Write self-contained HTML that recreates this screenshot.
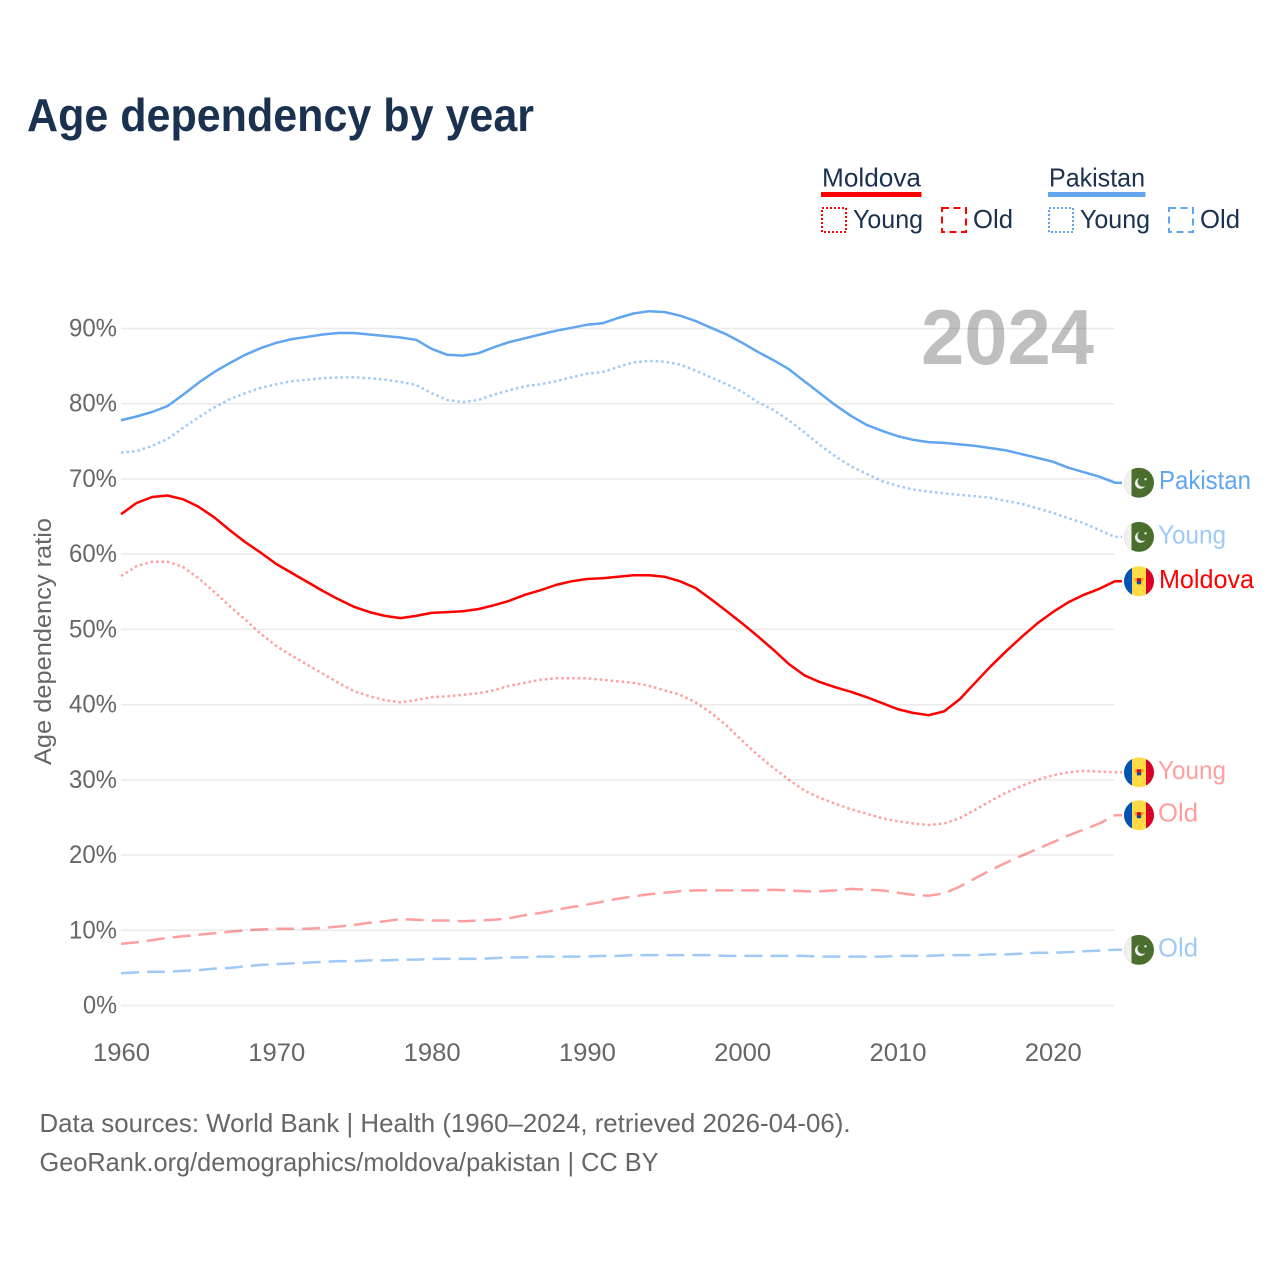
<!DOCTYPE html>
<html lang="en">
<head>
<meta charset="utf-8">
<title>Age dependency by year</title>
<style>
html,body{margin:0;padding:0;background:#fff;width:1280px;height:1280px;overflow:hidden}
svg{display:block}
text{font-family:"Liberation Sans",sans-serif}
</style>
</head>
<body>
<svg id="chart" xmlns="http://www.w3.org/2000/svg" width="1280" height="1280" viewBox="0 0 1280 1280">
  <defs>
    <clipPath id="flag-clip"><circle cx="0" cy="0" r="15"/></clipPath>
    <g id="flag-pk" clip-path="url(#flag-clip)">
      <rect x="-15" y="-15" width="30" height="30" fill="#496e2d"/>
      <rect x="-15" y="-15" width="7.5" height="30" fill="#f0f0f0"/>
      <circle cx="1.5" cy="0.5" r="5.5" fill="#f0f0f0"/>
      <circle cx="3.5" cy="-1" r="5" fill="#496e2d"/>
      <circle cx="6.5" cy="-3.5" r="1.2" fill="#f0f0f0"/>
    </g>
    <g id="flag-md" clip-path="url(#flag-clip)">
      <rect x="-15" y="-15" width="30" height="30" fill="#ffda44"/>
      <rect x="-15" y="-15" width="8" height="30" fill="#0052b4"/>
      <rect x="7" y="-15" width="8" height="30" fill="#d80027"/>
      <path d="M-5-3 L5-3 L2 3 L-2 3 Z" fill="#ff9811"/>
      <rect x="-2" y="-3" width="4" height="3" fill="#d80027"/>
      <rect x="-2" y="0" width="4" height="3" fill="#0052b4"/>
    </g>
  </defs>

  <rect x="0" y="0" width="1280" height="1280" fill="#fff"/>

  <text x="27" y="131" font-size="46" font-weight="700" fill="#1a3150" textLength="507" lengthAdjust="spacingAndGlyphs">Age dependency by year</text>

  <g id="grid"></g>

  <text x="921" y="364" font-size="78" font-weight="700" fill="#000" fill-opacity="0.25" textLength="173" lengthAdjust="spacingAndGlyphs">2024</text>

  <g fill="#1a3150" font-size="26">
    <text x="822" y="186.5" textLength="99" lengthAdjust="spacingAndGlyphs">Moldova</text>
    <rect x="821" y="192" width="100.5" height="5" fill="#ff0000"/>
    <rect x="822" y="208" width="24" height="24" fill="none" stroke="#ff0000" stroke-width="2" stroke-dasharray="2 2"/>
    <text x="853" y="228" textLength="70" lengthAdjust="spacingAndGlyphs">Young</text>
    <rect x="942" y="208" width="24" height="24" fill="none" stroke="#ff0000" stroke-width="2" stroke-dasharray="7 4.5"/>
    <text x="973" y="228" textLength="40" lengthAdjust="spacingAndGlyphs">Old</text>

    <text x="1049" y="186.5" textLength="96" lengthAdjust="spacingAndGlyphs">Pakistan</text>
    <rect x="1048" y="192" width="97.5" height="5" fill="#60a5ee"/>
    <rect x="1049" y="208" width="24" height="24" fill="none" stroke="#60a5ee" stroke-width="2" stroke-dasharray="2 2"/>
    <text x="1080" y="228" textLength="70" lengthAdjust="spacingAndGlyphs">Young</text>
    <rect x="1169" y="208" width="24" height="24" fill="none" stroke="#60a5ee" stroke-width="2" stroke-dasharray="7 4.5"/>
    <text x="1200" y="228" textLength="40" lengthAdjust="spacingAndGlyphs">Old</text>
  </g>

  <text transform="translate(51,765) rotate(-90)" x="0" y="0" font-size="24" fill="#666" textLength="247" lengthAdjust="spacingAndGlyphs">Age dependency ratio</text>

  <g id="ticks"></g>
  <g id="series"></g>
  <g id="ends"></g>

  <text x="39.5" y="1132" font-size="26" fill="#666" textLength="811" lengthAdjust="spacingAndGlyphs">Data sources: World Bank | Health (1960–2024, retrieved 2026-04-06).</text>
  <text x="39.5" y="1171" font-size="26" fill="#666" textLength="619" lengthAdjust="spacingAndGlyphs">GeoRank.org/demographics/moldova/pakistan | CC BY</text>
</svg>
<script>
const firstYear = 1960;
const xTicks = [1960, 1970, 1980, 1990, 2000, 2010, 2020];
const yTicks = [0, 10, 20, 30, 40, 50, 60, 70, 80, 90];

const pakistanTotal = [77.8,78.3,78.9,79.7,81.2,82.8,84.2,85.4,86.5,87.4,88.1,88.6,88.9,89.2,89.4,89.4,89.2,89.0,88.8,88.5,87.3,86.5,86.4,86.7,87.5,88.2,88.7,89.2,89.7,90.1,90.5,90.7,91.4,92.0,92.3,92.2,91.7,91.0,90.1,89.2,88.1,86.9,85.8,84.6,83.0,81.4,79.8,78.4,77.2,76.4,75.7,75.2,74.9,74.8,74.6,74.4,74.1,73.8,73.3,72.8,72.3,71.5,70.9,70.3,69.5];
const pakistanYoung = [73.5,73.7,74.4,75.3,76.8,78.2,79.5,80.6,81.4,82.1,82.6,83.0,83.2,83.4,83.5,83.5,83.4,83.2,82.9,82.5,81.4,80.5,80.2,80.5,81.2,81.8,82.3,82.6,83.0,83.5,84.0,84.2,84.9,85.5,85.7,85.6,85.2,84.4,83.5,82.6,81.6,80.2,79.2,77.8,76.2,74.5,73.0,71.7,70.7,69.7,69.1,68.6,68.3,68.1,67.9,67.7,67.5,67.1,66.7,66.1,65.5,64.8,64.1,63.2,62.3];
const pakistanOld = [4.3,4.4,4.5,4.5,4.6,4.7,4.9,5.0,5.2,5.4,5.5,5.6,5.7,5.8,5.9,5.9,6.0,6.0,6.1,6.1,6.2,6.2,6.2,6.2,6.3,6.4,6.4,6.5,6.5,6.5,6.5,6.6,6.6,6.7,6.7,6.7,6.7,6.7,6.7,6.6,6.6,6.6,6.6,6.6,6.6,6.5,6.5,6.5,6.5,6.5,6.6,6.6,6.6,6.7,6.7,6.7,6.8,6.8,6.9,7.0,7.0,7.1,7.2,7.3,7.4];
const moldovaTotal = [65.3,66.8,67.6,67.8,67.3,66.3,64.9,63.2,61.6,60.2,58.7,57.5,56.3,55.1,54.0,53.0,52.3,51.8,51.5,51.8,52.2,52.3,52.4,52.7,53.2,53.8,54.6,55.2,55.9,56.4,56.7,56.8,57.0,57.2,57.2,57.0,56.4,55.5,54.0,52.4,50.8,49.1,47.3,45.4,43.9,43.0,42.3,41.7,41.0,40.2,39.4,38.9,38.6,39.1,40.7,42.9,45.1,47.1,49.0,50.8,52.3,53.6,54.6,55.4,56.4];
const moldovaYoung = [57.1,58.4,59.0,59.0,58.3,56.8,55.0,53.1,51.3,49.4,47.8,46.5,45.3,44.1,42.9,41.8,41.1,40.6,40.3,40.6,41.0,41.1,41.3,41.5,41.9,42.5,42.9,43.3,43.5,43.5,43.5,43.3,43.1,42.9,42.5,41.9,41.3,40.3,38.9,37.2,35.2,33.3,31.6,30.0,28.6,27.6,26.8,26.1,25.5,24.9,24.5,24.2,24.0,24.2,24.9,26.0,27.2,28.3,29.2,30.0,30.6,31.0,31.2,31.1,31.0];
const moldovaOld = [8.2,8.4,8.7,9.0,9.2,9.4,9.6,9.8,10.0,10.1,10.2,10.2,10.2,10.3,10.5,10.7,11.0,11.2,11.5,11.4,11.3,11.3,11.2,11.3,11.4,11.6,12.0,12.3,12.7,13.1,13.4,13.8,14.2,14.5,14.8,15.0,15.2,15.3,15.3,15.3,15.3,15.3,15.4,15.3,15.2,15.2,15.3,15.5,15.4,15.3,15.0,14.7,14.6,14.9,15.8,16.9,18.0,19.0,19.9,20.8,21.7,22.6,23.4,24.2,25.3];

const NS = 'http://www.w3.org/2000/svg';
const xScale = year => 121 + (year - 1960) * 15.53;
const yScale = value => 1005.5 - value * 7.522;

function make(tag, parent, attrs, content) {
  const el = document.createElementNS(NS, tag);
  for (const k in attrs) el.setAttribute(k, attrs[k]);
  if (content !== undefined) el.textContent = content;
  parent.appendChild(el);
  return el;
}

const gridGroup = document.getElementById('grid');
const tickGroup = document.getElementById('ticks');
const seriesGroup = document.getElementById('series');
const endGroup = document.getElementById('ends');

yTicks.forEach(v => {
  const line = make('line', gridGroup, {x1: 121, x2: 1114, y1: yScale(v), y2: yScale(v), stroke: '#eaeaea', 'stroke-width': 1.5});
  
  
  const label = make('text', tickGroup, {x: 117, y: yScale(v) + 8, 'text-anchor': 'end', 'font-size': 25, fill: '#666', textLength: v === 0 ? 34 : 48, lengthAdjust: 'spacingAndGlyphs'}, v + '%');
  
  
});

xTicks.forEach(year => {
  const label = make('text', tickGroup, {x: xScale(year) + 0.5, y: 1061, 'text-anchor': 'middle', 'font-size': 25, fill: '#666', textLength: 57, lengthAdjust: 'spacingAndGlyphs'}, String(year));
  
  
});

function drawSeries(values, color, opacity, dash, name, flag, labelText, labelX, labelWidth) {
  const pts = values.map((v, i) => xScale(firstYear + i).toFixed(1) + ',' + yScale(v).toFixed(1));
  const lastY = yScale(values[values.length - 1]);
  pts.push('1122,' + lastY.toFixed(1));
  const line = make('polyline', seriesGroup, {points: pts.join(' '), fill: 'none', stroke: color, 'stroke-opacity': opacity, 'stroke-width': 2.5, 'stroke-dasharray': dash, 'stroke-linejoin': 'round'});
  
  
  const icon = make('use', endGroup, {href: '#' + flag, x: 1139, y: lastY});
  
  
  const label = make('text', endGroup, {x: labelX, y: lastY + 6.5, 'font-size': 26, fill: color, 'fill-opacity': opacity, textLength: labelWidth, lengthAdjust: 'spacingAndGlyphs'}, labelText);
  
  
}

drawSeries(moldovaOld, '#ff0000', 0.38, '18 8', 'moldova-old', 'flag-md', 'Old', 1158, 40);
drawSeries(moldovaYoung, '#ff0000', 0.38, '2.5 3', 'moldova-young', 'flag-md', 'Young', 1158, 68);
drawSeries(moldovaTotal, '#ff0000', 1, 'none', 'moldova-total', 'flag-md', 'Moldova', 1159, 95);
drawSeries(pakistanOld, '#60a5ee', 0.6, '18 8', 'pakistan-old', 'flag-pk', 'Old', 1158, 40);
drawSeries(pakistanYoung, '#60a5ee', 0.6, '2.5 3', 'pakistan-young', 'flag-pk', 'Young', 1158, 68);
drawSeries(pakistanTotal, '#60a5ee', 1, 'none', 'pakistan-total', 'flag-pk', 'Pakistan', 1159, 92);
</script>
</body>
</html>
